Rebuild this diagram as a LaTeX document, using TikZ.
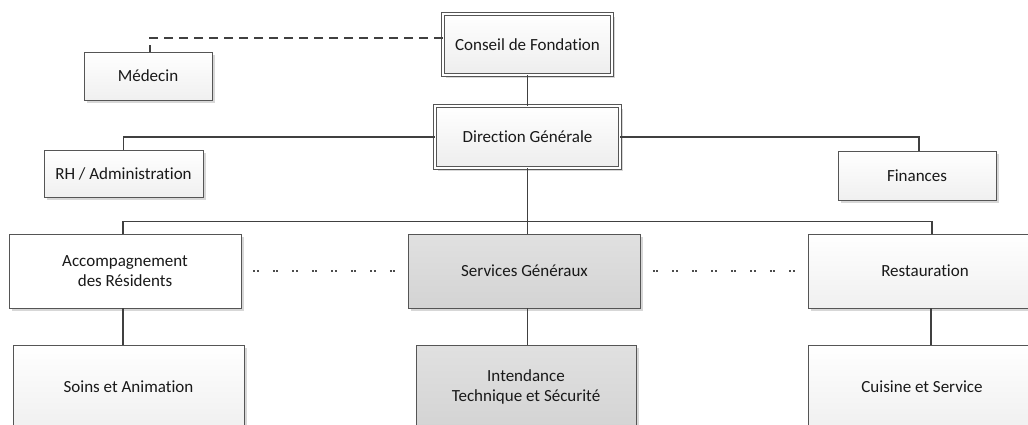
\documentclass[tikz,border=0pt]{standalone}
\usepackage{fontspec}
\setmainfont{Carlito}[Ligatures=NoCommon]
\usetikzlibrary{shadows,calc}
\definecolor{edgegray}{HTML}{555555}
\definecolor{linegray}{HTML}{404040}
\tikzset{
  box/.style={draw=edgegray, line width=0.9pt, inner sep=0pt, align=center,
    font=\fontsize{17}{20}\selectfont, text=black!90,
    drop shadow={shadow xshift=2.5pt, shadow yshift=-2.5pt, fill=gray!45, opacity=0.7}},
  lightbox/.style={box, top color=white, bottom color=gray!12},
  whitebox/.style={box, fill=white},
  darkbox/.style={box, top color=gray!24, bottom color=gray!34},
  dblbox/.style={box, top color=white, bottom color=gray!14, double=white, double distance=2pt, line width=0.7pt},
  conn/.style={draw=linegray, line width=1.1pt},
  dashconn/.style={draw=linegray, line width=1.4pt, dash pattern=on 9pt off 6pt},
  dotconn/.style={draw=gray!60!black, line width=2pt, dash pattern=on 2pt off 1.5pt on 2pt off 14pt, dash phase=-12pt}
}
\begin{document}
\begin{tikzpicture}[x=1pt,y=-1pt]
\useasboundingbox (0,0) rectangle (1028,424);
\clip (0,0) rectangle (1028,424);
% nodes
\node[dblbox, minimum width=169pt, minimum height=61pt] (conseil) at (527.5,44.5) {Conseil de Fondation};
\node[lightbox, minimum width=128pt, minimum height=48pt] (medecin) at (148,76) {Médecin};
\node[dblbox, minimum width=185pt, minimum height=62pt] (direction) at (527.5,137) {Direction Générale};
\node[lightbox, minimum width=159pt, minimum height=47pt] (rh) at (123.5,173.5) {RH / Administration};
\node[lightbox, minimum width=158pt, minimum height=49pt] (finances) at (917,175.5) {Finances};
\node[whitebox, minimum width=232pt, minimum height=74pt] (accomp) at (125,271) {Accompagnement\\des Résidents};
\node[darkbox, minimum width=232pt, minimum height=74pt] (services) at (524.5,271) {Services Généraux};
\node[lightbox, minimum width=234pt, minimum height=74pt] (restaur) at (925,271) {Restauration};
\node[lightbox, minimum width=231pt, minimum height=84pt] (soins) at (128.5,387) {Soins et Animation};
\node[darkbox, minimum width=220pt, minimum height=84pt] (intend) at (526,387) {Intendance\\Technique et Sécurité};
\node[lightbox, minimum width=228pt, minimum height=84pt] (cuisine) at (922,387) {Cuisine et Service};
% connectors
\coordinate (busL) at ($(accomp.north)+(-2pt,12pt)$);
\draw[dashconn] ([yshift=6.5pt]conseil.west) -| ([xshift=2pt]medecin.north);
\draw[conn] (conseil.south) -- (direction.north);
\draw[conn] (direction.west) -| (rh.north);
\draw[conn] (direction.east) -| ([xshift=2pt]finances.north);
\draw[conn] (direction.south) -- (direction.south |- services.north);
\draw[conn] ([xshift=-2pt]accomp.north) |- (busL) -| ([xshift=7pt]restaur.north);
\draw[conn] ([xshift=-2pt]accomp.south) -- ([xshift=-2pt]accomp.south |- soins.north);
\draw[conn] (direction.south |- services.south) -- (direction.south |- intend.north);
\draw[conn] ([xshift=6pt]restaur.south) -- ([xshift=6pt]restaur.south |- cuisine.north);
\draw[dotconn] (accomp.east) -- (services.west);
\draw[dotconn] (services.east) -- (restaur.west);
\end{tikzpicture}
\end{document}
